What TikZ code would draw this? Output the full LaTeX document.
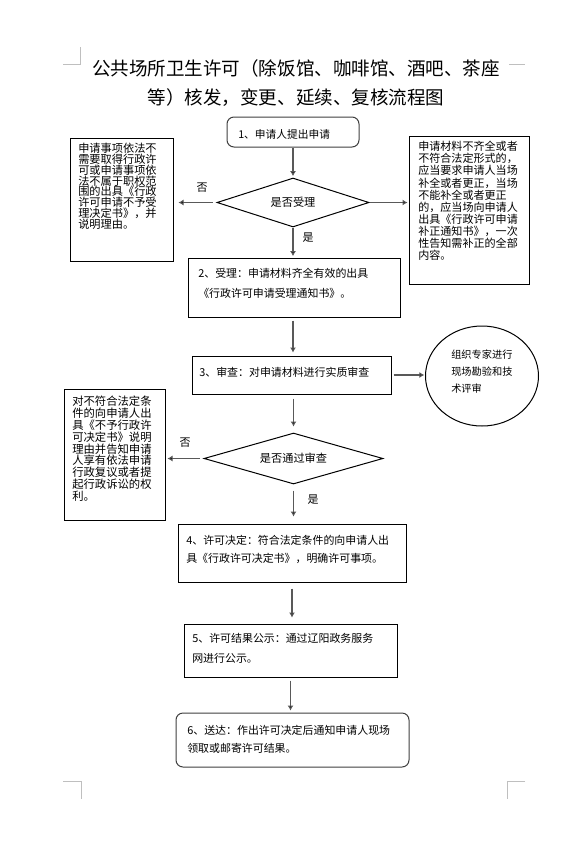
\documentclass[tikz,border=0pt]{standalone}
\usepackage{fontspec}
\setmainfont{Noto Sans CJK SC}
\usetikzlibrary{arrows.meta,shapes.geometric}
\setlength{\lineskiplimit}{-10pt}
\begin{document}
\begin{tikzpicture}[x=0.75pt,y=-0.75pt,
  box/.style={draw=black,line width=0.75pt,inner sep=0pt},
  rbox/.style={draw=black!75,line width=0.75pt,rounded corners=5.25pt,inner sep=0pt},
  dia/.style={diamond,aspect=3,draw=black,line width=0.75pt,inner sep=0pt,font=\fontsize{8.4pt}{10pt}\selectfont},
  txt/.style={anchor=north west,inner sep=0pt,align=left},
  lab/.style={inner sep=0pt,font=\fontsize{8.25pt}{10pt}\selectfont},
  arr/.style={draw=black!65,line width=0.9pt,-{Latex[length=3.75pt,width=4.5pt,fill=black]}},
  crop/.style={draw=black!25,line width=0.75pt}]
\useasboundingbox[fill=white] (0,0) rectangle (583,854);

% crop marks
\draw[crop] (63,64) -- (80,64) -- (80,47);
\draw[crop] (509,64) -- (525,64);
\draw[crop] (63,781) -- (81,781) -- (81,799);
\draw[crop] (525,781) -- (507,781) -- (507,799);

% title
\node[anchor=north,inner sep=0pt,align=center,font=\fontsize{13.9pt}{21.75pt}\selectfont] (title) at (296,59)
  {公共场所卫生许可（除饭馆、咖啡馆、酒吧、茶座\\等）核发，变更、延续、复核流程图};

% shapes
\node[rbox,minimum width=99pt,minimum height=22.5pt] (b1) at (293,132) {};
\node[dia,minimum width=114pt,minimum height=36.75pt] (d1) at (293,202.5) {是否受理};
\node[box,minimum width=77.25pt,minimum height=92.25pt] (L1) at (121.5,199.5) {};
\node[box,minimum width=90pt,minimum height=111pt] (R1) at (469,210) {};
\node[box,minimum width=159pt,minimum height=44.25pt] (B2) at (294,287.5) {};
\node[box,minimum width=149.25pt,minimum height=28.5pt] (B3) at (291.5,375) {};
\node[ellipse,draw=black,line width=0.75pt,inner sep=0pt,minimum width=84.75pt,minimum height=75pt] (E) at (482,376) {};
\node[dia,minimum width=134.25pt,minimum height=38.25pt] (d2) at (293.5,458.5) {是否通过审查};
\node[box,minimum width=75.75pt,minimum height=98.25pt] (L2) at (114.5,454.5) {};
\node[box,minimum width=171pt,minimum height=43.5pt] (B4) at (292,553) {};
\node[box,minimum width=159.75pt,minimum height=39.75pt] (B5) at (290.5,650.5) {};
\node[rbox,minimum width=174.75pt,minimum height=40.5pt] (B6) at (292.5,740) {};

% texts
\node[txt,font=\fontsize{8.05pt}{10pt}\selectfont] (t1) at (238,129) {1、申请人提出申请};
\node[txt,font=\fontsize{8.2pt}{15pt}\selectfont] (t2) at (198,268) {2、受理：申请材料齐全有效的出具\\《行政许可申请受理通知书》。};
\node[txt,font=\fontsize{8.2pt}{15pt}\selectfont] (t3) at (199,367) {3、审查：对申请材料进行实质审查};
\node[txt,font=\fontsize{8.2pt}{13.5pt}\selectfont] (t4) at (186,535) {4、许可决定：符合法定条件的向申请人出\\具《行政许可决定书》，明确许可事项。};
\node[txt,font=\fontsize{8.2pt}{15pt}\selectfont] (t5) at (192,633) {5、许可结果公示：通过辽阳政务服务\\网进行公示。};
\node[txt,font=\fontsize{8.2pt}{13.5pt}\selectfont] (t6) at (187,725) {6、送达：作出许可决定后通知申请人现场\\领取或邮寄许可结果。};
\node[txt,font=\fontsize{8.4pt}{8.1pt}\selectfont] (tL1) at (78,143)
  {申请事项依法不\\需要取得行政许\\可或申请事项依\\法不属于职权范\\围的出具《行政\\许可申请不予受\\理决定书》，并\\说明理由。};
\node[txt,font=\fontsize{8.3pt}{9.1pt}\selectfont] (tR1) at (418,141)
  {申请材料不齐全或者\\不符合法定形式的，\\应当要求申请人当场\\补全或者更正，当场\\不能补全或者更正\\的，应当场向申请人\\出具《行政许可申请\\补正通知书》，一次\\性告知需补正的全部\\内容。};
\node[txt,font=\fontsize{8.5pt}{8.85pt}\selectfont] (tL2) at (72,396)
  {对不符合法定条\\件的向申请人出\\具《不予行政许\\可决定书》说明\\理由并告知申请\\人享有依法申请\\行政复议或者提\\起行政诉讼的权\\利。};
\node[txt,font=\fontsize{7.65pt}{12.75pt}\selectfont] (tE) at (451,350) {组织专家进行\\现场勘验和技\\术评审};

% labels
\node[lab] (no1) at (202,188) {否};
\node[lab] (yes1) at (308,238) {是};
\node[lab] (no2) at (185,443) {否};
\node[lab] (yes2) at (313,500) {是};

% connectors
\draw[arr,shorten >=1pt] (b1) -- (d1);
\draw[arr,shorten <=3pt,shorten >=3.75pt] (d1.west) -- (d1.west -| L1.east);
\draw[arr,shorten >=0.75pt] (d1.east) -- (d1.east -| R1.west);
\draw[arr,shorten >=1pt] (d1.south) -- (d1.south |- B2.north);
\draw[arr,shorten <=2.25pt,shorten >=2.25pt] (d1.south |- B2.south) -- (d1.south |- B3.north);
\draw[arr,shorten <=1.5pt,shorten >=0.5pt] (B3.east) -- (B3.east -| E.west);
\draw[arr,shorten <=3pt,shorten >=4.5pt] (d2.north |- B3.south) -- (d2.north);
\draw[arr,shorten <=3pt,shorten >=1.5pt] (d2.west) -- (d2.west -| L2.east);
\draw[arr,shorten <=4.5pt,shorten >=5.25pt] (d2.south) -- (d2.south |- B4.north);
\draw[arr,shorten <=4.5pt,shorten >=4.5pt] (B4.south) -- (B4.south |- B5.north);
\draw[arr,shorten <=2.25pt,shorten >=1.5pt] (B5.south) -- (B5.south |- B6.north);
\end{tikzpicture}
\end{document}
